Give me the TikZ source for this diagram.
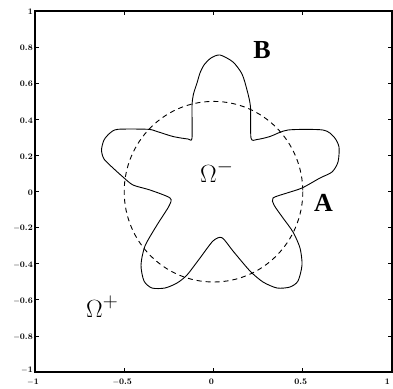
\documentclass[tikz,border=0pt]{standalone}
\usepackage{fontspec}
\newfontfamily\lbl{Liberation Serif}
\begin{document}
\begin{tikzpicture}[x=1pt,y=-1pt,
  curve/.style={line width=0.9pt},
  circ/.style={line width=0.9pt,dash pattern=on 5pt off 4pt},
  frame/.style={line width=1.2pt},
  tick/.style={line width=0.8pt},
  ticklbl/.style={font=\fontsize{8.5}{9}\selectfont\bfseries,inner sep=0pt},
  ptlbl/.style={font=\lbl\fontsize{26}{28}\selectfont\bfseries,inner sep=0pt},
  omlbl/.style={font=\fontsize{28}{30}\selectfont,inner sep=0pt}]
\useasboundingbox (0,0) rectangle (393,388);
\fill[white] (0,0) rectangle (393,388);
% frame
\draw[frame] (35,11) rectangle (392,372);
% x ticks
\foreach \px/\lab/\al in {35/$-$1/north,124.25/$-$0.5/north,213.5/0/north,302.75/0.5/north,392/1/north east}{
  \draw[tick] (\px,372) -- (\px,368);
  \draw[tick] (\px,11) -- (\px,15);
  \node[ticklbl,anchor=\al] (xl\px) at (\px-2,379) {\lab};
}
% y ticks
\foreach \k/\lab/\dy in {0/1/1,1/0.8/1,2/0.6/1,3/0.4/1,4/0.2/1,5/0/1,6/$-$0.2/1,7/$-$0.4/1,8/$-$0.6/1,9/$-$0.8/1,10/$-$1/-1.5}{
  \pgfmathsetmacro\py{11+36.1*\k}
  \draw[tick] (35,\py) -- (39,\py);
  \draw[tick] (392,\py) -- (388,\py);
  \node[ticklbl,anchor=east] (yl\k) at (33,\py+\dy) {\lab};
}
% dashed circle
\draw[circ] (213.5,191.7) ellipse [x radius=89.3, y radius=90.3];
% star curve
\draw[curve] plot[smooth cycle, tension=0.45] coordinates {
(220,55) (211,58) (204,65) (200,73) (197,83) (193.5,94) (192,106) (192,138)
(188,139) (173,136.5) (157,131.5) (148,129.3) (118,129.3) (110,133) (104,140)
(101.5,150) (104,159) (113,168) (123,177) (133,185) (150,190) (170,198)
(169,206) (157,225) (145,246) (141,265) (144,281) (152,288) (165,288)
(177,283) (187,275) (200,258) (213,241) (222,237.7) (233,251) (250,271)
(263,282) (277,288) (290,287) (298,281) (302,265) (300,248) (293,232)
(283,218) (274,205) (273,198) (287,193) (302,188) (320,178) (332,172)
(338,162) (339,147) (334,137) (323,130) (288,130) (270,136.5) (257,139.5)
(251,138) (250.5,107) (247,90) (242,74) (233,62)};
% labels
\node[ptlbl] (B) at (262,50) {B};
\node[ptlbl] (A) at (323.5,203) {A};
\node[omlbl,anchor=base west] (om1) at (200,182) {$\Omega^-$};
\node[omlbl,anchor=base west] (om2) at (86,317) {$\Omega^+$};
\end{tikzpicture}
\end{document}
